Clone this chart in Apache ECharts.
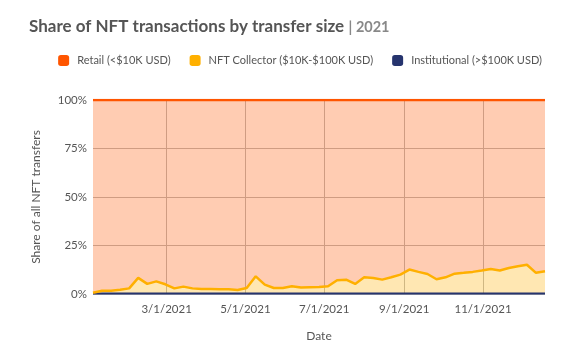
<!DOCTYPE html>
<html>
<head>
<meta charset="utf-8">
<script src="https://cdn.jsdelivr.net/npm/echarts@6/dist/echarts.min.js"></script>
<style>
  html, body { margin: 0; padding: 0; background: #fff; }
  #chart { width: 572px; height: 353px; }
</style>
</head>
<body>
<div id="chart"></div>
<script>
// weekly dates (Sundays)
var dates = [
  '2021-01-03','2021-01-10','2021-01-17','2021-01-24','2021-01-31',
  '2021-02-07','2021-02-14','2021-02-21','2021-02-28',
  '2021-03-07','2021-03-14','2021-03-21','2021-03-28',
  '2021-04-04','2021-04-11','2021-04-18','2021-04-25',
  '2021-05-02','2021-05-09','2021-05-16','2021-05-23','2021-05-30',
  '2021-06-06','2021-06-13','2021-06-20','2021-06-27',
  '2021-07-04','2021-07-11','2021-07-18','2021-07-25',
  '2021-08-01','2021-08-08','2021-08-15','2021-08-22','2021-08-29',
  '2021-09-05','2021-09-12','2021-09-19','2021-09-26',
  '2021-10-03','2021-10-10','2021-10-17','2021-10-24','2021-10-31',
  '2021-11-07','2021-11-14','2021-11-21','2021-11-28',
  '2021-12-05','2021-12-12','2021-12-19'
];
var institutional = [
  0.2,0.2,0.2,0.2,0.2, 0.2,0.2,0.2,0.2,0.2, 0.2,0.2,0.2,0.2,0.2,
  0.2,0.2,0.2,0.2,0.2, 0.2,0.2,0.2,0.2,0.2, 0.2,0.2,0.2,0.2,0.2,
  0.2,0.2,0.2,0.2,0.2, 0.2,0.2,0.2,0.2,0.2, 0.2,0.2,0.2,0.2,0.2,
  0.2,0.2,0.2,0.2,0.2, 0.2
];
var collector = [
  0.4,1.5,1.5,2.0,2.7, 8.1,5.0,6.3,4.8,2.7, 3.6,2.7,2.4,2.4,2.2,
  2.2,1.9,2.9,8.9,4.6, 2.9,2.9,3.8,3.1,3.3, 3.4,3.8,6.9,7.2,5.0,
  8.4,8.1,7.2,8.4,9.8, 12.4,11.2,10.1,7.4,8.4, 10.3,10.7,11.2,11.9,12.7,
  11.9,13.2,14.1,14.9,10.7, 11.5
];
var retail = [
  99.4,98.3,98.3,97.8,97.1, 91.7,94.8,93.5,95.0,97.1, 96.2,97.1,97.4,97.4,97.6,
  97.6,97.9,96.9,90.9,95.2, 96.9,96.9,96.0,96.7,96.5, 96.4,96.0,92.9,92.6,94.8,
  91.4,91.7,92.6,91.4,90.0, 87.4,88.6,89.7,92.4,91.4, 89.5,89.1,88.6,87.9,87.1,
  87.9,86.6,85.7,84.9,89.1, 88.3
];
var tickDates = ['2021-03-01','2021-05-01','2021-07-01','2021-09-01','2021-11-01'];

function toTime(s) {
  return new Date(s + 'T00:00:00').getTime();
}
function pairs(vals) {
  var out = [];
  for (var i = 0; i < dates.length; i++) {
    out.push([dates[i] + 'T00:00:00', vals[i]]);
  }
  return out;
}
var tickTimes = tickDates.map(toTime);
var tMin = toTime(dates[0]);
var tMax = toTime(dates[dates.length - 1]);

var chart = echarts.init(document.getElementById('chart'));
var font = 'Lato, "Open Sans", sans-serif';

var option = {
  animation: false,
  textStyle: { fontFamily: font },
  title: {
    left: 24,
    top: 13,
    text: '{a|Share of NFT transactions by transfer size} {b|| 2021}',
    textStyle: {
      rich: {
        a: { fontFamily: font, fontSize: 17, fontWeight: 'bold', color: '#555' },
        b: { fontFamily: font, fontSize: 14.5, color: '#888' }
      }
    }
  },
  legend: {
    data: ['Retail (<$10K USD)', 'NFT Collector ($10K-$100K USD)', 'Institutional (>$100K USD)'],
    right: 25,
    top: 50,
    itemWidth: 11,
    itemHeight: 11,
    itemGap: 19,
    icon: 'roundRect',
    textStyle: { fontFamily: font, fontSize: 11, color: '#555', padding: [0, 0, 0, 3] }
  },
  grid: { left: 93, right: 27, top: 100, bottom: 59 },
  xAxis: [
    {
      // time axis carrying the series
      type: 'time',
      min: tMin,
      max: tMax,
      axisLine: { show: false },
      axisTick: { show: false },
      axisLabel: { show: false },
      splitLine: { show: false }
    },
    {
      // label axis: month ticks every two months
      type: 'value',
      position: 'bottom',
      min: tMin,
      max: tMax,
      name: 'Date',
      nameLocation: 'middle',
      nameGap: 36,
      nameTextStyle: { fontFamily: font, fontSize: 12, color: '#555' },
      axisLine: { show: false },
      axisTick: { show: false, customValues: tickTimes },
      axisLabel: {
        customValues: tickTimes,
        fontFamily: font, fontSize: 11.5, color: '#555', margin: 9,
        formatter: function (v) {
          var d = new Date(v);
          return (d.getMonth() + 1) + '/' + d.getDate() + '/' + d.getFullYear();
        }
      },
      splitLine: { show: true, lineStyle: { color: '#bbb', width: 1 } }
    }
  ],
  yAxis: {
    type: 'value',
    min: 0,
    max: 100,
    interval: 25,
    name: 'Share of all NFT transfers',
    nameLocation: 'middle',
    nameGap: 51,
    nameTextStyle: { fontFamily: font, fontSize: 12, color: '#555' },
    axisLine: { show: false },
    axisTick: { show: false },
    axisLabel: { formatter: '{value}%', fontFamily: font, fontSize: 11.5, color: '#555', margin: 6 },
    splitLine: { show: true, lineStyle: { color: '#bbb', width: 1 } }
  },
  series: [
    {
      name: 'Institutional (>$100K USD)',
      type: 'line',
      stack: 'share',
      symbol: 'none',
      data: pairs(institutional),
      lineStyle: { color: '#26346e', width: 2 },
      itemStyle: { color: '#26346e' },
      areaStyle: { color: '#26346e', opacity: 0.3 }
    },
    {
      name: 'NFT Collector ($10K-$100K USD)',
      type: 'line',
      stack: 'share',
      symbol: 'none',
      data: pairs(collector),
      lineStyle: { color: '#ffb000', width: 2.5 },
      itemStyle: { color: '#ffb000' },
      areaStyle: { color: '#ffb000', opacity: 0.3 }
    },
    {
      name: 'Retail (<$10K USD)',
      type: 'line',
      stack: 'share',
      symbol: 'none',
      data: pairs(retail),
      lineStyle: { color: '#ff5500', width: 2.5 },
      itemStyle: { color: '#ff5500' },
      areaStyle: { color: '#ff5500', opacity: 0.3 }
    }
  ]
};

chart.setOption(option);
</script>
</body>
</html>
